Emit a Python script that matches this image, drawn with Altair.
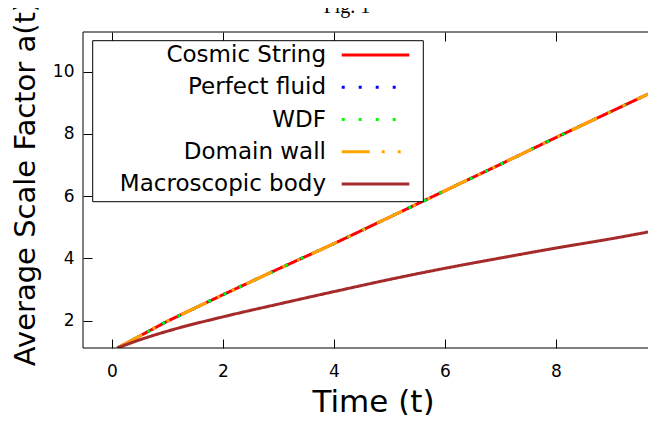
import altair as alt
import pandas as pd

# ---- data ----
series_names = ["Cosmic String", "Perfect fluid", "WDF", "Domain wall", "Macroscopic body"]

time_linear = [0.1, 1, 2, 3, 4, 5, 6, 7, 8, 9, 10]
cosmic_string = [1.12, 1.98, 2.83, 3.66, 4.47, 5.32, 6.17, 7.02, 7.88, 8.72, 9.56]
perfect_fluid = [1.12, 1.98, 2.83, 3.66, 4.47, 5.32, 6.17, 7.02, 7.88, 8.72, 9.56]
wdf = [1.12, 1.98, 2.83, 3.66, 4.47, 5.32, 6.17, 7.02, 7.88, 8.72, 9.56]
domain_wall = [1.12, 1.98, 2.83, 3.66, 4.47, 5.32, 6.17, 7.02, 7.88, 8.72, 9.56]

time_body = [0.1, 0.5, 1, 2, 3, 4, 5, 6, 7, 8, 9, 10]
macroscopic_body = [1.12, 1.38, 1.66, 2.12, 2.53, 2.93, 3.32, 3.68, 4.01, 4.33, 4.63, 4.96]

x_ticks = [0, 2, 4, 6, 8]
y_ticks = [2, 4, 6, 8, 10]

# ---- styles ----
colors = ["#ff0000", "#0000ff", "#00ff00", "#ffa500", "#a52a2a"]
dashes = [[1, 0], [3, 14], [3, 14], [28, 12, 3, 13, 3, 13], [1, 0]]
FONT = "DejaVu Sans"
W, H = 565, 316

rows = []
for name, ts, vals in [
    ("Cosmic String", time_linear, cosmic_string),
    ("Perfect fluid", time_linear, perfect_fluid),
    ("WDF", time_linear, wdf),
    ("Domain wall", time_linear, domain_wall),
    ("Macroscopic body", time_body, macroscopic_body),
]:
    for t, a in zip(ts, vals):
        rows.append({"series": name, "t": t, "a": a})
df = pd.DataFrame(rows)

# the reference is cropped on the right, so the x range runs out of the picture
xs = alt.Scale(domain=[-0.52, 9.66], nice=False, zero=False)
ys = alt.Scale(domain=[1.12, 11.27], nice=False, zero=False)
color_scale = alt.Scale(domain=series_names, range=colors)
dash_scale = alt.Scale(domain=series_names, range=dashes)

bottom_axis = alt.Axis(orient="bottom", values=x_ticks, offset=-9, tickSize=9, domain=False,
                       grid=False, labelPadding=15, format="d", title="Time (t)",
                       titleX=290, titleY=72, titleBaseline="alphabetic", titleAlign="center",
                       titleFontSize=31)
left_axis = alt.Axis(orient="left", values=y_ticks, offset=-9, tickSize=9, domain=False,
                     grid=False, labelPadding=9, format="d", title="Average Scale Factor a(t)",
                     titleX=-67, titleY=151, titleBaseline="middle", titleAlign="center",
                     titleAngle=270, titleFontSize=29)
top_axis = alt.Axis(orient="top", values=x_ticks, offset=-9, tickSize=9, domain=False,
                    grid=False, labels=False, title=None)
# the mirrored right ticks lie beyond the cropped picture edge: keep an empty right axis
right_axis = alt.Axis(orient="right", ticks=False, labels=False, domain=False,
                      grid=False, title=None)

base = alt.Chart(df)
layers = []
for i, name in enumerate(series_names):
    ax_x = bottom_axis if i == 0 else None
    ax_y = left_axis if i == 0 else None
    interp = "monotone" if name == "Macroscopic body" else "linear"
    layers.append(
        base.transform_filter(alt.datum.series == name)
        .mark_line(strokeWidth=3, clip=True, strokeCap="butt", interpolate=interp)
        .encode(
            x=alt.X("t:Q", scale=xs, axis=ax_x),
            y=alt.Y("a:Q", scale=ys, axis=ax_y),
            color=alt.Color("series:N", scale=color_scale, legend=None),
            strokeDash=alt.StrokeDash("series:N", scale=dash_scale, legend=None),
        )
    )

# invisible layer carrying the mirrored top ticks
mirror = base.mark_line(opacity=0).encode(
    x=alt.X("t:Q", scale=xs, axis=top_axis),
    y=alt.Y("a:Q", scale=ys, axis=right_axis),
    detail="series:N",
)

# plot frame (its right edge runs past the cropped picture edge, as in the reference)
frame = alt.Chart(pd.DataFrame({"k": [0]})).mark_rect(
    fillOpacity=0, stroke="black", strokeWidth=1
).encode(x=alt.value(0), x2=alt.value(W + 20), y=alt.value(0), y2=alt.value(H))

fig_label = alt.Chart(pd.DataFrame({"label": ["Fig. 1"]})).mark_text(
    font="Liberation Serif", fontSize=20, baseline="alphabetic", align="center", color="black"
).encode(x=alt.value(264), y=alt.value(-19), text="label:N")

main = alt.layer(*layers, mirror, frame, fig_label)

# ---- legend (gnuplot style: label then sample) ----
legend_df = pd.DataFrame({"series": series_names})
ly = alt.Y("series:N", sort=series_names,
           scale=alt.Scale(type="point", domain=series_names, range=[23, 152], padding=0),
           axis=None)
box = alt.Chart(pd.DataFrame({"k": [0]})).mark_rect(
    fill="white", stroke="black", strokeWidth=1
).encode(x=alt.value(9.7), x2=alt.value(340.3), y=alt.value(8.7), y2=alt.value(169.7))
legend_text = alt.Chart(legend_df).mark_text(
    align="right", baseline="middle", font=FONT, fontSize=23, color="black"
).encode(x=alt.value(243), y=ly, text="series:N")
legend_sample = alt.Chart(legend_df).mark_rule(strokeWidth=3, strokeCap="butt").encode(
    x=alt.value(258.7), x2=alt.value(326.3), y=ly,
    color=alt.Color("series:N", scale=color_scale, legend=None),
    strokeDash=alt.StrokeDash("series:N", scale=dash_scale, legend=None),
)
legend = alt.layer(box, legend_text, legend_sample)

chart = (
    alt.layer(main, legend)
    .resolve_scale(y="independent")
    .properties(width=W, height=H,
                padding={"left": 75, "top": 24, "right": 0, "bottom": 67},
                autosize=alt.AutoSizeParams(type="none"))
    .configure_view(strokeWidth=0)
    .configure_axis(labelFont=FONT, labelFontSize=17, labelColor="black",
                    titleFont=FONT, titleFontWeight="normal",
                    titleColor="black", tickColor="black", tickWidth=1)
)

chart.save("out.html", embed_options={"renderer": "svg", "actions": False})
